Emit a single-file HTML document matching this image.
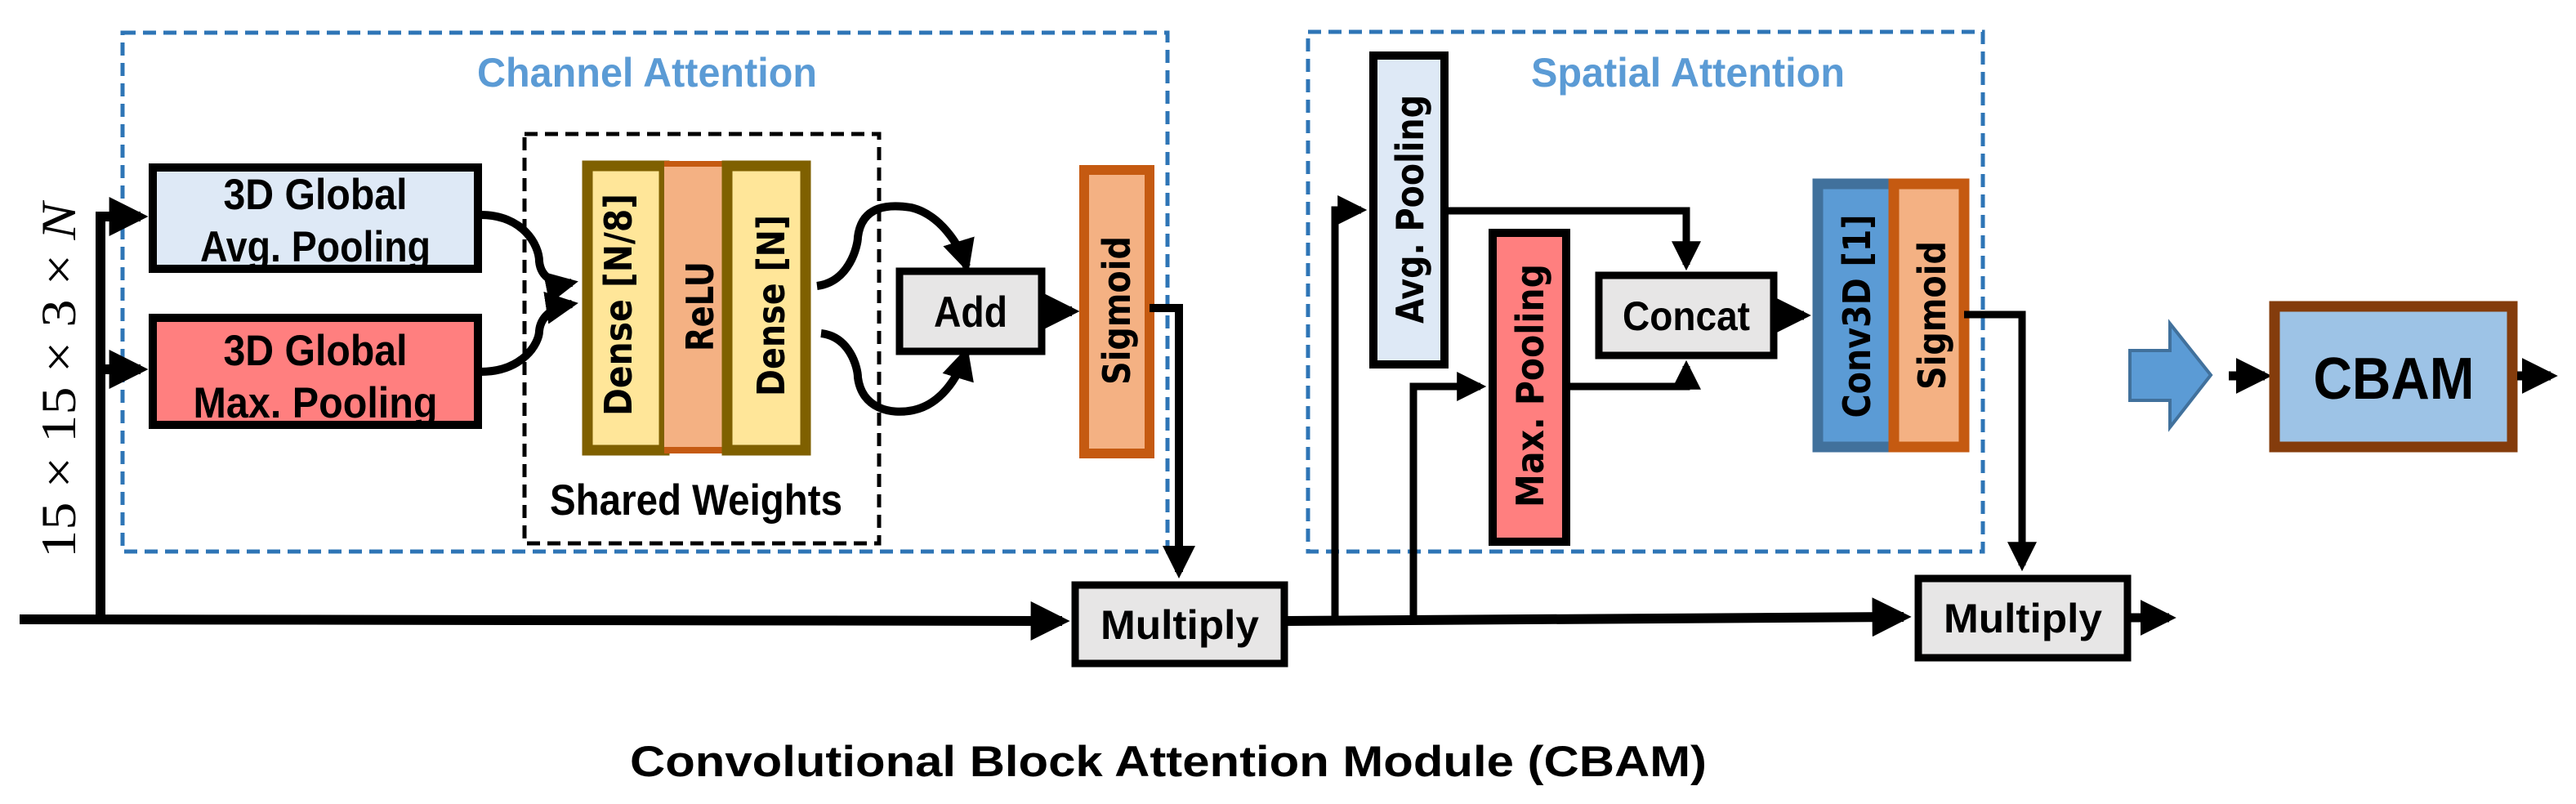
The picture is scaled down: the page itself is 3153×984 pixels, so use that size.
<!DOCTYPE html>
<html><head><meta charset="utf-8"><style>
html,body{margin:0;padding:0;background:#fff;width:3153px;height:984px;overflow:hidden}
svg{display:block}
text{font-family:"Liberation Sans",sans-serif;font-weight:bold}
.v{font-family:"DejaVu Sans",sans-serif;font-size:46px}
</style></head><body>
<svg width="3153" height="984" viewBox="0 0 3153 984" xmlns="http://www.w3.org/2000/svg">
<defs>
<marker id="ah" markerWidth="4" markerHeight="4" refX="3.2" refY="2" orient="auto" markerUnits="strokeWidth">
<path d="M0,0 L4,2 L0,4 z" fill="#000"/></marker>
</defs>

<!-- Channel attention dashed box -->
<rect x="150" y="40" width="1279" height="635" fill="none" stroke="#2e75b6" stroke-width="5" stroke-dasharray="16,9"/>
<text x="792" y="106" font-size="50" fill="#5b9bd5" text-anchor="middle" textLength="416" lengthAdjust="spacingAndGlyphs">Channel Attention</text>

<!-- input label -->
<text transform="translate(92,683) rotate(-90)" font-size="60" style="font-family:'Liberation Serif',serif;font-weight:normal" textLength="435" lengthAdjust="spacingAndGlyphs">15 × 15 × 3 × <tspan font-style="italic">N</tspan></text>

<!-- main line and branch -->
<path d="M24,758 L1300,760" stroke="#000" stroke-width="12" fill="none" marker-end="url(#ah)"/>
<path d="M123,758 L123,265 L172,265" stroke="#000" stroke-width="12" fill="none" marker-end="url(#ah)"/>
<path d="M123,452 L172,452" stroke="#000" stroke-width="12" fill="none" marker-end="url(#ah)"/>

<!-- pooling boxes -->
<rect x="187" y="205" width="398" height="124" fill="#dee9f6" stroke="#000" stroke-width="10"/>
<text x="386" y="256" font-size="53" text-anchor="middle" textLength="225" lengthAdjust="spacingAndGlyphs">3D Global</text>
<text x="386" y="320" font-size="53" text-anchor="middle" textLength="282" lengthAdjust="spacingAndGlyphs">Avg. Pooling</text>
<rect x="187" y="389" width="398" height="131" fill="#ff7f7f" stroke="#000" stroke-width="10"/>
<text x="386" y="447" font-size="53" text-anchor="middle" textLength="225" lengthAdjust="spacingAndGlyphs">3D Global</text>
<text x="386" y="511" font-size="53" text-anchor="middle" textLength="299" lengthAdjust="spacingAndGlyphs">Max. Pooling</text>

<!-- shared weights dashed box -->
<rect x="642" y="164" width="434" height="501" fill="none" stroke="#000" stroke-width="5" stroke-dasharray="16,9"/>
<text x="852" y="630" font-size="53" text-anchor="middle" textLength="358" lengthAdjust="spacingAndGlyphs">Shared Weights</text>

<!-- dense blocks -->
<rect x="719" y="203" width="94" height="348" fill="#ffe699" stroke="#7f6000" stroke-width="13"/>
<rect x="813" y="203" width="77" height="348" fill="#f4b183"/>
<rect x="813" y="197" width="77" height="7" fill="#c55a11"/>
<rect x="813" y="547" width="77" height="8" fill="#c55a11"/>
<rect x="890" y="203" width="96" height="348" fill="#ffe699" stroke="#7f6000" stroke-width="13"/>
<text class="v" transform="translate(773,373) rotate(-90)" text-anchor="middle" textLength="272" lengthAdjust="spacingAndGlyphs">Dense [N/8]</text>
<text class="v" transform="translate(873,375) rotate(-90)" text-anchor="middle" textLength="110" lengthAdjust="spacingAndGlyphs">ReLU</text>
<text class="v" transform="translate(960,374) rotate(-90)" text-anchor="middle" textLength="222" lengthAdjust="spacingAndGlyphs">Dense [N]</text>

<!-- curves into dense -->
<path d="M588,263 C640,263 660,300 660,320 C662,340 680,350 700,346" stroke="#000" stroke-width="10" fill="none" marker-end="url(#ah)"/>
<path d="M588,455 C640,455 660,420 660,405 C662,385 680,375 700,372" stroke="#000" stroke-width="10" fill="none" marker-end="url(#ah)"/>
<!-- curves to add -->
<path d="M1000,350 C1040,345 1050,300 1050,290 C1055,250 1090,250 1115,254 C1150,262 1175,300 1183,326" stroke="#000" stroke-width="10" fill="none" marker-end="url(#ah)"/>
<path d="M1005,408 C1040,412 1050,450 1050,462 C1055,500 1090,508 1118,502 C1150,495 1172,465 1182,432" stroke="#000" stroke-width="10" fill="none" marker-end="url(#ah)"/>

<!-- Add -->
<rect x="1101" y="332" width="174" height="98" fill="#e7e6e6" stroke="#000" stroke-width="9"/>
<text x="1188" y="400" font-size="53" text-anchor="middle" textLength="90" lengthAdjust="spacingAndGlyphs">Add</text>
<path d="M1279,381 L1312,381" stroke="#000" stroke-width="12" fill="none" marker-end="url(#ah)"/>

<!-- Sigmoid 1 -->
<rect x="1327" y="208" width="80" height="347" fill="#f4b183" stroke="#c55a11" stroke-width="12"/>
<text class="v" transform="translate(1383,380) rotate(-90)" text-anchor="middle" textLength="182" lengthAdjust="spacingAndGlyphs">Sigmoid</text>
<path d="M1407,377 L1443,377 L1443,700" stroke="#000" stroke-width="10" fill="none" marker-end="url(#ah)"/>

<!-- Multiply 1 -->
<rect x="1316" y="716" width="256" height="96" fill="#e7e6e6" stroke="#000" stroke-width="9"/>
<text x="1444" y="782" font-size="50" text-anchor="middle" textLength="194" lengthAdjust="spacingAndGlyphs">Multiply</text>

<!-- line to multiply 2 -->
<path d="M1576,760 L2330,755" stroke="#000" stroke-width="12" fill="none" marker-end="url(#ah)"/>

<!-- Spatial attention box -->
<rect x="1601" y="39" width="826" height="636" fill="none" stroke="#2e75b6" stroke-width="5" stroke-dasharray="16,9"/>
<text x="2066" y="106" font-size="50" fill="#5b9bd5" text-anchor="middle" textLength="384" lengthAdjust="spacingAndGlyphs">Spatial Attention</text>

<!-- branches -->
<path d="M1634,760 L1634,257 L1666,257" stroke="#000" stroke-width="9" fill="none" marker-end="url(#ah)"/>
<path d="M1730,758 L1730,473 L1812,473" stroke="#000" stroke-width="9" fill="none" marker-end="url(#ah)"/>

<!-- Avg pooling -->
<rect x="1681" y="68" width="87" height="378" fill="#dee9f6" stroke="#000" stroke-width="10"/>
<text class="v" transform="translate(1742,256) rotate(-90)" text-anchor="middle" textLength="280" lengthAdjust="spacingAndGlyphs">Avg. Pooling</text>
<!-- Max pooling -->
<rect x="1827" y="285" width="90" height="378" fill="#ff7f7f" stroke="#000" stroke-width="10"/>
<text class="v" transform="translate(1889,472) rotate(-90)" text-anchor="middle" textLength="298" lengthAdjust="spacingAndGlyphs">Max. Pooling</text>

<path d="M1768,258 L2064,258 L2064,324" stroke="#000" stroke-width="9" fill="none" marker-end="url(#ah)"/>
<path d="M1917,473 L2064,473 L2064,448" stroke="#000" stroke-width="9" fill="none" marker-end="url(#ah)"/>

<!-- Concat -->
<rect x="1957" y="337" width="214" height="98" fill="#e7e6e6" stroke="#000" stroke-width="9"/>
<text x="2064" y="404" font-size="50" text-anchor="middle" textLength="156" lengthAdjust="spacingAndGlyphs">Concat</text>
<path d="M2175,386 L2208,386" stroke="#000" stroke-width="11" fill="none" marker-end="url(#ah)"/>

<!-- Conv3D + Sigmoid -->
<rect x="2225" y="225" width="93" height="322" fill="#5b9bd5" stroke="#41719c" stroke-width="13"/>
<rect x="2318" y="225" width="86" height="322" fill="#f4b183" stroke="#c55a11" stroke-width="13"/>
<text class="v" transform="translate(2289,387) rotate(-90)" text-anchor="middle" textLength="249" lengthAdjust="spacingAndGlyphs">Conv3D [1]</text>
<text class="v" transform="translate(2381,386) rotate(-90)" text-anchor="middle" textLength="182" lengthAdjust="spacingAndGlyphs">Sigmoid</text>
<path d="M2404,385 L2475,385 L2475,692" stroke="#000" stroke-width="9" fill="none" marker-end="url(#ah)"/>

<!-- Multiply 2 -->
<rect x="2348" y="708" width="256" height="97" fill="#e7e6e6" stroke="#000" stroke-width="9"/>
<text x="2476" y="774" font-size="50" text-anchor="middle" textLength="194" lengthAdjust="spacingAndGlyphs">Multiply</text>
<path d="M2608,756 L2655,756" stroke="#000" stroke-width="11" fill="none" marker-end="url(#ah)"/>

<!-- big blue arrow -->
<path d="M2607,429 L2656,429 L2656,396 L2706,459 L2656,523 L2656,490 L2607,490 Z" fill="#5b9bd5" stroke="#41719c" stroke-width="4"/>
<path d="M2728,460 L2772,460" stroke="#000" stroke-width="11" fill="none" marker-end="url(#ah)"/>

<!-- CBAM box -->
<rect x="2784" y="375" width="291" height="172" fill="#9dc3e6" stroke="#843c0c" stroke-width="13"/>
<text x="2930" y="488" font-size="72" text-anchor="middle" textLength="197" lengthAdjust="spacingAndGlyphs">CBAM</text>
<path d="M3081,460 L3122,460" stroke="#000" stroke-width="11" fill="none" marker-end="url(#ah)"/>

<!-- caption -->
<text x="1430" y="950" font-size="53" text-anchor="middle" textLength="1318" lengthAdjust="spacingAndGlyphs">Convolutional Block Attention Module (CBAM)</text>
</svg>
</body></html>
